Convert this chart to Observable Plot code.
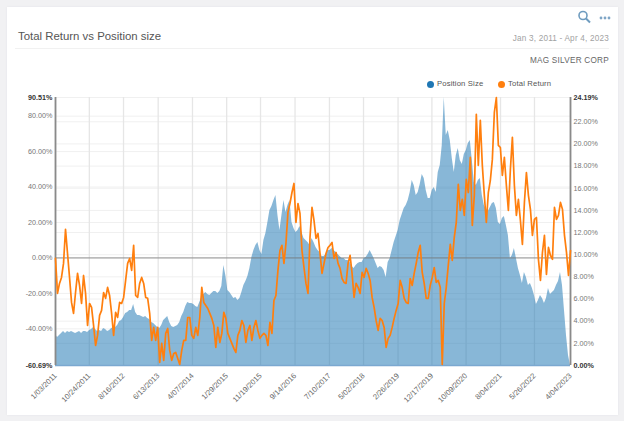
<!DOCTYPE html>
<html>
<head>
<meta charset="utf-8">
<script src="https://cdn.jsdelivr.net/npm/d3@7"></script>
<script src="https://cdn.jsdelivr.net/npm/@observablehq/plot@0.6"></script>
<style>
html,body{margin:0;padding:0;background:#f1f1f3;font-family:"Liberation Sans",Arial,sans-serif;}
#page{position:relative;width:624px;height:421px;overflow:hidden;}
#card{position:absolute;left:7px;top:7px;width:611px;height:408px;background:#fff;box-shadow:0 0 2px #e4e4e8;}
.t{position:absolute;white-space:nowrap;}
#title{left:18px;top:30px;font-size:11.4px;color:#555;}
#range{right:15px;top:34px;font-size:8.2px;color:#a2a2a2;letter-spacing:.2px;}
#rule{position:absolute;left:15px;width:594px;top:48px;height:1px;background:#f1f1f1;}
#name{right:15px;top:56px;font-size:8.2px;color:#666;letter-spacing:.25px;}
.leg{top:79px;font-size:7.7px;color:#555;letter-spacing:.15px;}
.dot{position:absolute;top:81px;width:7px;height:7px;border-radius:50%;}
#chart{position:absolute;left:0;top:92px;}
#icons{position:absolute;left:576px;top:9px;}
</style>
</head>
<body>
<div id="page">
  <div id="card"></div>
  <div id="title" class="t">Total Return vs Position size</div>
  <div id="range" class="t">Jan 3, 2011 - Apr 4, 2023</div>
  <div id="rule"></div>
  <div id="name" class="t">MAG SILVER CORP</div>
  <div class="dot" style="left:427px;background:#1f77b4"></div>
  <div class="t leg" style="left:437px">Position Size</div>
  <div class="dot" style="left:498px;background:#ff7f0e"></div>
  <div class="t leg" style="left:508px">Total Return</div>
  <svg id="icons" width="40" height="16" viewBox="0 0 40 16">
    <circle cx="7" cy="6.5" r="4" fill="none" stroke="#6f9cbf" stroke-width="1.6"/>
    <line x1="10" y1="9.5" x2="14" y2="13.5" stroke="#6f9cbf" stroke-width="2"/>
    <circle cx="25" cy="9" r="1.4" fill="#7fa6c6"/><circle cx="29" cy="9" r="1.4" fill="#7fa6c6"/><circle cx="33" cy="9" r="1.4" fill="#7fa6c6"/>
  </svg>
  <div id="chart"></div>
</div>
<script>
const startDate = new Date(Date.UTC(2011,0,3));
const endDate = new Date(Date.UTC(2023,3,4));
const returnMin = -60.69, returnMax = 90.51, positionMax = 24.19;

const tickDates = ["2011-01-03","2011-10-24","2012-08-16","2013-06-13","2014-04-07","2015-01-29","2015-11-19","2016-09-14","2017-07-10","2018-05-02","2019-02-26","2019-12-17","2020-10-09","2021-08-04","2022-05-26","2023-04-04"];
const leftTicks = [80,60,40,20,0,-20,-40];
const rightTicks = [22,20,18,16,14,12,10,8,6,4,2];

const totalReturn = [-0.3,-20.0,-14.4,-11.0,-3.1,16.1,2.5,-11.0,-25.1,-31.3,-19.5,-8.7,-15.5,-25.7,-9.9,-20.0,-38.1,-25.7,-27.9,-38.1,-49.4,-43.7,-32.4,-29.6,-19.5,-22.8,-16.6,-21.2,-31.3,-43.7,-30.7,-33.6,-25.1,-25.7,-22.3,-12.7,-3.1,-0.3,-7.0,7.1,-21.2,-22.3,-14.4,-11.0,-14.4,-22.3,-22.8,-31.3,-46.5,-39.2,-46.5,-39.2,-58.9,-48.2,-57.8,-42.6,-39.8,-52.2,-57.8,-53.9,-53.3,-56.7,-60.1,-52.2,-46.5,
-46.5,-33.6,-33.6,-43.7,-45.4,-39.2,-43.7,-33.6,-16.6,-25.1,-26.8,-28.5,-31.3,-34.1,-38.1,-50.5,-39.2,-47.7,-42.6,-30.7,-34.1,-42.6,-45.4,-48.2,-51.0,-53.3,-43.7,-40.9,-35.3,-38.1,-47.7,-40.9,-38.1,-46.5,-39.2,-35.3,-40.9,-45.4,-43.7,-42.6,-43.7,-49.4,-36.4,-42.6,-24.0,-21.2,-7.0,4.2,7.1,-3.1,8.2,25.7,30.7,36.9,42.0,20.0,30.7,25.1,4.2,-5.4,-14.4,-20.0,11.6,
28.5,21.2,11.0,13.8,2.5,-8.7,-3.1,2.5,5.9,7.1,8.7,-0.3,3.1,-3.1,-5.9,-11.6,-13.8,-14.4,-3.1,1.4,-8.7,-22.3,-14.4,-16.6,-20.0,-8.2,-11.0,-5.9,-8.7,-12.7,-22.3,-27.9,-35.3,-40.9,-34.1,-35.3,-39.2,-50.5,-45.4,-43.7,-39.2,-34.1,-29.6,-25.7,-12.7,-16.6,-22.8,-25.1,-25.7,-11.6,-15.5,-8.7,-3.1,3.1,7.1,-8.2,-14.4,-22.8,-22.8,-15.5,-11.0,-5.4,-13.8,-12.7,-16.6,-60.1,-25.7,-16.6,
-4.2,7.6,-1.4,11.6,20.0,41.5,26.8,33.0,24.0,44.3,36.9,56.7,18.3,35.3,81.0,52.2,77.6,52.2,35.3,20.0,36.9,43.7,55.6,82.1,90.5,63.5,62.3,46.5,56.7,40.9,26.8,49.9,68.0,40.9,24.0,33.0,21.2,7.6,31.3,48.2,35.3,27.4,12.7,21.7,22.8,-0.8,-12.7,3.1,12.7,-9.3,5.9,1.4,-0.8,28.5,21.7,24.0,31.3,27.4,12.7,3.1,-9.9,4.2];

const positionSize = [2.80,2.53,2.71,2.89,3.07,2.89,3.07,2.98,3.07,2.98,2.89,2.98,3.07,2.89,3.07,3.07,2.98,3.16,3.25,3.43,3.25,3.07,3.16,3.07,3.34,3.25,3.07,3.16,3.34,3.43,3.43,3.61,3.97,4.06,4.33,4.69,4.78,4.96,4.96,5.51,4.78,4.51,4.51,4.42,4.33,4.42,4.24,4.15,3.88,3.79,3.61,3.43,3.34,3.61,4.06,4.24,4.42,3.88,3.52,3.43,3.52,3.61,3.88,4.42,4.78,
5.32,5.69,5.60,5.60,5.51,5.32,5.23,5.69,6.14,6.41,6.59,6.41,6.32,6.50,6.68,6.68,6.50,6.68,7.13,9.03,8.12,6.77,6.59,6.32,6.05,6.14,5.87,6.05,6.59,7.22,7.58,8.03,8.75,9.75,10.38,10.83,11.10,10.38,10.02,11.28,11.91,12.91,13.99,14.35,14.89,15.34,13.54,12.18,13.54,14.89,13.81,14.44,14.89,12.91,12.36,12.00,12.18,12.54,12.00,11.46,11.28,11.10,10.83,
11.46,11.10,10.65,10.38,10.20,9.84,9.84,10.02,10.38,10.38,10.56,10.38,10.20,10.02,9.84,9.66,9.66,9.48,9.48,9.30,8.93,8.75,9.03,9.21,9.30,9.30,9.66,9.75,10.02,10.38,10.02,9.66,9.21,8.75,8.93,8.84,8.57,7.94,9.30,9.66,10.38,11.10,11.64,12.18,13.09,13.63,14.17,14.44,14.89,15.61,16.70,16.25,15.34,15.61,16.34,17.24,16.88,15.79,15.07,15.07,15.79,16.06,15.61,17.42,18.05,19.86,24.19,
20.76,21.21,20.31,18.68,17.42,18.95,19.58,18.50,18.14,19.04,19.40,20.04,20.31,18.50,16.52,16.25,16.70,16.88,15.34,14.44,14.08,13.90,14.26,14.62,14.71,14.17,12.91,12.73,13.27,13.45,12.64,11.73,9.66,9.93,10.56,9.66,8.75,8.12,7.40,8.39,7.94,7.22,7.40,6.95,6.32,5.51,5.87,6.32,6.05,5.60,6.05,6.95,6.41,6.59,6.77,7.22,7.58,8.39,7.22,4.96,2.71,0.90,0];

// The chart has two value axes: positions are placed on the return scale through this mapping.
const returnSpan = returnMax - returnMin;
const posToReturn = p => returnMin + p / positionMax * returnSpan;
const returnToPos = r => (r - returnMin) / returnSpan * positionMax;
const dateAt = (i, n) => new Date(+startDate + i * (endDate - startDate) / (n - 1));

const returnRows = totalReturn.map((v, i) => ({date: dateAt(i, totalReturn.length), v}));
const positionRows = positionSize.map((v, i) => ({date: dateAt(i, positionSize.length), v}));
const ticks = tickDates.map(s => new Date(s + "T00:00:00Z"));
const fmtDate = d3.utcFormat("%-m/%d/%Y");
const pct = v => v.toFixed(2) + "%";
const axisColor = "#777", tickSize = 7.2;

const plot = Plot.plot({
  width: 624, height: 329,
  marginLeft: 55, marginRight: 54, marginTop: 5, marginBottom: 56,
  style: {background: "transparent", fontFamily: "'Liberation Sans',Arial,sans-serif"},
  x: {type: "utc", domain: [startDate, endDate]},
  y: {domain: [returnMin, returnMax]},
  marks: [
    Plot.ruleY([...leftTicks, returnMax], {stroke: "#f0f0f0", strokeWidth: 1}),
    Plot.ruleY(rightTicks.map(posToReturn), {stroke: "#f0f0f0", strokeWidth: 1}),
    Plot.ruleX(ticks, {stroke: "#e6e6e6", strokeWidth: 1.3}),
    Plot.areaY(positionRows, {x: "date", y1: returnMin, y2: d => posToReturn(d.v), fill: "#1f77b4", fillOpacity: 0.53}),
    Plot.ruleY([returnMin], {stroke: "#7ba8d0", strokeWidth: 1.5}),
    Plot.ruleY([0], {stroke: "#777", strokeWidth: 1, strokeOpacity: 0.8}),
    Plot.ruleX([startDate, endDate], {stroke: "#8a8a8a", strokeWidth: 1.8}),
    Plot.line(returnRows, {x: "date", y: "v", stroke: "#ff7f0e", strokeWidth: 1.7, strokeLinejoin: "round"}),
    Plot.axisX({ticks, tickFormat: fmtDate, tickRotate: -45, tickSize: 0, tickPadding: 9, fontSize: 7.6, color: "#666", label: null}),
    Plot.axisY({ticks: leftTicks, tickFormat: pct, tickSize: 0, tickPadding: 3, fontSize: tickSize, color: axisColor, label: null}),
    Plot.axisY({ticks: [returnMax, returnMin], tickFormat: pct, tickSize: 0, tickPadding: 3, fontSize: tickSize, fontWeight: "bold", color: "#333", label: null}),
    Plot.axisY({anchor: "right", ticks: rightTicks.map(posToReturn), tickFormat: r => pct(returnToPos(r)), tickSize: 0, tickPadding: 3, fontSize: tickSize, color: axisColor, label: null}),
    Plot.axisY({anchor: "right", ticks: [returnMax, returnMin], tickFormat: r => pct(returnToPos(r)), tickSize: 0, tickPadding: 3, fontSize: tickSize, fontWeight: "bold", color: "#333", label: null})
  ]
});
document.getElementById("chart").appendChild(plot);
</script>
</body>
</html>
